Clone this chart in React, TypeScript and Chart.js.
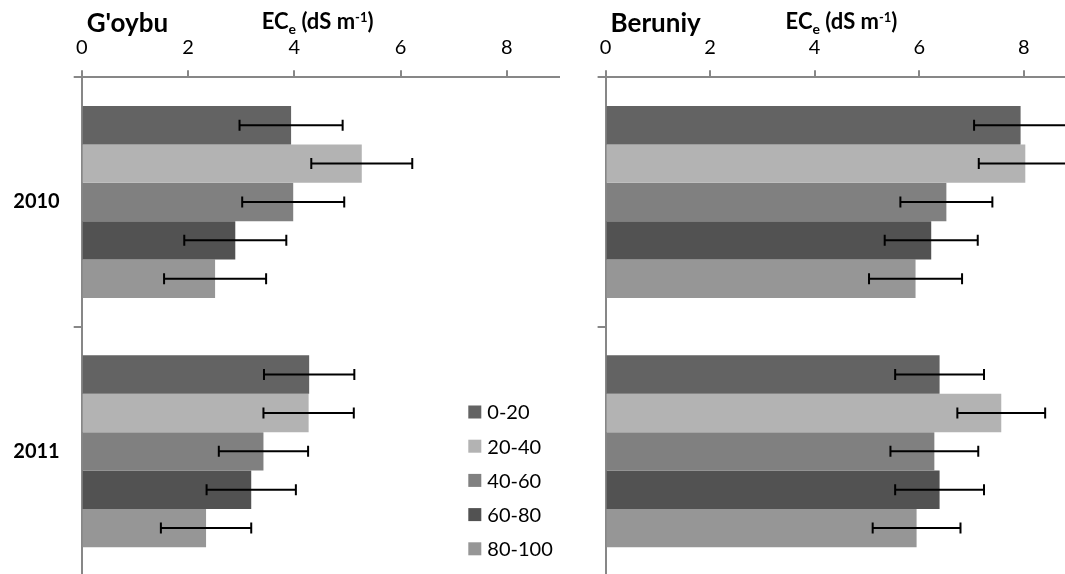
import React, { useEffect, useRef } from "react";
import { Chart, registerables } from "chart.js";

Chart.register(...registerables);

// ---------- data ----------
const years = ["2010", "2011"];
const depthLabels = ["0-20", "20-40", "40-60", "60-80", "80-100"];
const depthColors = ["#636363", "#b3b3b3", "#808080", "#525252", "#969696"];
const xTickValues = [0, 2, 4, 6, 8];

const goybu2010 = [3.94, 5.27, 3.98, 2.89, 2.51];
const goybu2011 = [4.28, 4.27, 3.42, 3.19, 2.34];
const goybuErr2010 = [0.97, 0.95, 0.96, 0.96, 0.96];
const goybuErr2011 = [0.85, 0.85, 0.84, 0.84, 0.85];

const beruniy2010 = [7.94, 8.03, 6.52, 6.23, 5.93];
const beruniy2011 = [6.39, 7.57, 6.29, 6.39, 5.95];
const beruniyErr2010 = [0.89, 0.89, 0.88, 0.89, 0.89];
const beruniyErr2011 = [0.85, 0.84, 0.84, 0.85, 0.84];

const FONT = "Lato";
const AXIS_GRAY = "#878787";

// ---------- plugins ----------
const errorBarPlugin = {
  id: "errorBars",
  afterDatasetsDraw(chart: any) {
    const ctx = chart.ctx;
    const xs = chart.scales.x;
    chart.data.datasets.forEach((ds: any, di: number) => {
      const meta = chart.getDatasetMeta(di);
      meta.data.forEach((bar: any, i: number) => {
        const v = ds.data[i];
        const e = ds.errors[i];
        const x1 = xs.getPixelForValue(v - e);
        const x2 = xs.getPixelForValue(v + e);
        const y = bar.y;
        ctx.save();
        ctx.strokeStyle = "#000";
        ctx.lineWidth = 2;
        ctx.beginPath();
        ctx.moveTo(x1, y);
        ctx.lineTo(x2, y);
        ctx.moveTo(x1, y - 5.5);
        ctx.lineTo(x1, y + 5.5);
        ctx.moveTo(x2, y - 5.5);
        ctx.lineTo(x2, y + 5.5);
        ctx.stroke();
        ctx.restore();
      });
    });
  },
};

const titlePlugin = {
  id: "panelTitles",
  afterDraw(chart: any, _args: any, opts: any) {
    const ctx = chart.ctx;
    const left = chart.chartArea.left;
    ctx.save();
    ctx.fillStyle = "#000";
    ctx.textBaseline = "alphabetic";
    ctx.textAlign = "left";
    // panel title
    ctx.font = `bold 26px ${FONT}`;
    ctx.fillText(opts.title, left + 5, 32);
    // axis title EC_e (dS m^-1)
    let x = left + 180;
    ctx.font = `bold 22px ${FONT}`;
    ctx.fillText("EC", x, 29);
    x += ctx.measureText("EC").width;
    ctx.font = `bold 14px ${FONT}`;
    ctx.fillText("e", x, 34);
    x += ctx.measureText("e").width;
    ctx.font = `bold 22px ${FONT}`;
    ctx.fillText(" (dS m", x, 29);
    x += ctx.measureText(" (dS m").width;
    ctx.font = `bold 13px ${FONT}`;
    ctx.fillText("-1", x, 22);
    x += ctx.measureText("-1").width;
    ctx.font = `bold 22px ${FONT}`;
    ctx.fillText(")", x, 29);
    ctx.restore();
  },
};

const legendPlugin = {
  id: "sideLegend",
  afterDraw(chart: any, _args: any, opts: any) {
    if (!opts.show) return;
    const ctx = chart.ctx;
    ctx.save();
    ctx.font = `20px ${FONT}`;
    ctx.textBaseline = "middle";
    ctx.textAlign = "left";
    chart.data.datasets.forEach((ds: any, i: number) => {
      const cy = opts.top + i * opts.step;
      ctx.fillStyle = ds.backgroundColor;
      ctx.fillRect(opts.left, cy - 6.5, 13, 13);
      ctx.fillStyle = "#000";
      ctx.fillText(ds.label, opts.left + 19, cy + 1);
    });
    ctx.restore();
  },
};

function makeConfig(
  v2010: number[],
  v2011: number[],
  e2010: number[],
  e2011: number[],
  title: string,
  yWidth: number,
  showYLabels: boolean,
  showLegend: boolean
): any {
  return {
    type: "bar",
    data: {
      labels: years,
      datasets: depthLabels.map((lab, i) => ({
        label: lab,
        data: [v2010[i], v2011[i]],
        errors: [e2010[i], e2011[i]],
        backgroundColor: depthColors[i],
        borderWidth: 0,
        categoryPercentage: 0.77,
        barPercentage: 1.0,
      })),
    },
    options: {
      indexAxis: "y",
      responsive: false,
      animation: false,
      layout: { padding: 0 },
      plugins: {
        legend: { display: false },
        tooltip: { enabled: false },
        panelTitles: { title },
        sideLegend: { show: showLegend, left: 468.3, top: 412, step: 34.2 },
      },
      scales: {
        x: {
          position: "top",
          min: 0,
          max: 9,
          afterBuildTicks: (s: any) => {
            s.ticks = xTickValues.map((v) => ({ value: v }));
          },
          afterFit: (s: any) => {
            s.height = 77.3;
            s.paddingLeft = 0;
            s.paddingRight = 0;
          },
          grid: {
            drawOnChartArea: false,
            drawTicks: true,
            tickLength: 7,
            color: AXIS_GRAY,
            lineWidth: 2,
          },
          border: { color: AXIS_GRAY, width: 2 },
          ticks: {
            color: "#000",
            font: { family: FONT, size: 20 },
            padding: 11,
          },
        },
        y: {
          position: "left",
          afterFit: (s: any) => {
            s.width = yWidth;
            s.paddingTop = 0;
            s.paddingBottom = 0;
          },
          grid: {
            offset: true,
            drawOnChartArea: false,
            drawTicks: true,
            tickLength: 8,
            color: AXIS_GRAY,
            lineWidth: 2,
          },
          border: { color: AXIS_GRAY, width: 2 },
          ticks: {
            display: showYLabels,
            color: "#000",
            font: { family: FONT, size: 20, weight: "bold" },
            padding: 14,
          },
        },
      },
    },
    plugins: [errorBarPlugin, titlePlugin, legendPlugin],
  };
}

export default function App() {
  const leftRef = useRef<HTMLCanvasElement | null>(null);
  const rightRef = useRef<HTMLCanvasElement | null>(null);

  useEffect(() => {
    Chart.defaults.font.family = FONT;
    const left = new Chart(
      leftRef.current as HTMLCanvasElement,
      makeConfig(goybu2010, goybu2011, goybuErr2010, goybuErr2011, "G'oybu", 81.7, true, true)
    );
    const right = new Chart(
      rightRef.current as HTMLCanvasElement,
      makeConfig(beruniy2010, beruniy2011, beruniyErr2010, beruniyErr2011, "Beruniy", 45.6, false, false)
    );
    return () => {
      left.destroy();
      right.destroy();
    };
  }, []);

  return (
    <div
      style={{
        position: "fixed",
        left: 0,
        top: 0,
        width: 1065,
        height: 574,
        overflow: "hidden",
        background: "#fff",
      }}
    >
      <canvas
        ref={leftRef}
        width={560}
        height={576}
        style={{ position: "absolute", left: 0, top: 0 }}
      />
      <canvas
        ref={rightRef}
        width={516}
        height={576}
        style={{ position: "absolute", left: 560, top: 0 }}
      />
    </div>
  );
}
